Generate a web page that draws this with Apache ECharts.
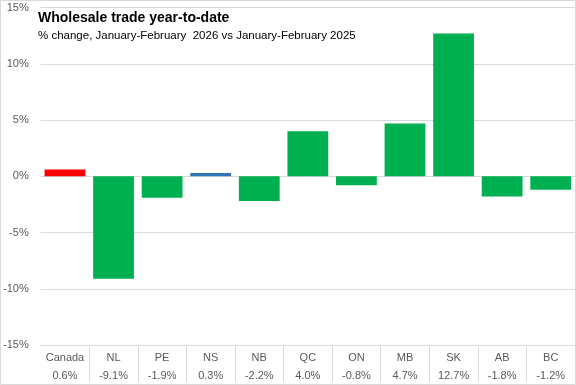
<!DOCTYPE html>
<html><head><meta charset="utf-8">
<script src="https://cdn.jsdelivr.net/npm/echarts@6/dist/echarts.min.js"></script>
<style>html,body{margin:0;padding:0;background:#fff}#c{width:576px;height:385px}</style>
</head><body><div id="c"></div>
<script>
const categories = ['Canada','NL','PE','NS','NB','QC','ON','MB','SK','AB','BC'];
const values = [0.6,-9.1,-1.9,0.3,-2.2,4.0,-0.8,4.7,12.7,-1.8,-1.2];
const yTicks = [-15,-10,-5,0,5,10,15];

const colorFor = c => c === 'Canada' ? '#FF0000' : (c === 'NS' ? '#2E75B6' : '#00B050');
const chart = echarts.init(document.getElementById('c'), null, {renderer:'canvas'});
chart.setOption({
  animation:false,
  backgroundColor:'#fff',
  title:{
    text:'Wholesale trade year-to-date',
    subtext:'% change, January-February  2026 vs January-February 2025',
    left:38, top:11, itemGap:5, padding:0,
    textStyle:{fontFamily:'Liberation Sans',fontWeight:'bold',fontSize:14,color:'#000'},
    subtextStyle:{fontFamily:'Liberation Sans',fontSize:11.5,color:'#000'}
  },
  graphic:[{type:'rect',shape:{x:0.5,y:0.5,width:575,height:384},style:{fill:null,stroke:'#d9d9d9',lineWidth:1},silent:true,z:-1}],
  grid:{left:38,right:1,top:7.5,bottom:38,containLabel:false},
  xAxis:{
    type:'category', data:categories, position:'bottom',
    axisLine:{show:true,onZero:false,lineStyle:{color:'#d9d9d9'}},
    axisTick:{show:true,length:37,inside:false,interval:(i)=>i!==0,lineStyle:{color:'#d9d9d9'}},
    axisLabel:{interval:0,margin:4,fontFamily:'Liberation Sans',fontSize:11,color:'#595959',lineHeight:18,
      formatter:(v,i)=>v+'\n'+values[i].toFixed(1)+'%'}
  },
  yAxis:{
    type:'value', min:yTicks[0], max:yTicks[yTicks.length-1], interval:5,
    axisLine:{show:false}, axisTick:{show:false},
    splitLine:{lineStyle:{color:'#d9d9d9'}},
    axisLabel:{margin:12,fontFamily:'Liberation Sans',fontSize:11,color:'#595959',formatter:'{value}%'}
  },
  series:[{
    type:'bar', barCategoryGap:'16%',
    data:values.map((v,i)=>({value:v,itemStyle:{color:colorFor(categories[i])}}))
  }]
});
</script></body></html>
